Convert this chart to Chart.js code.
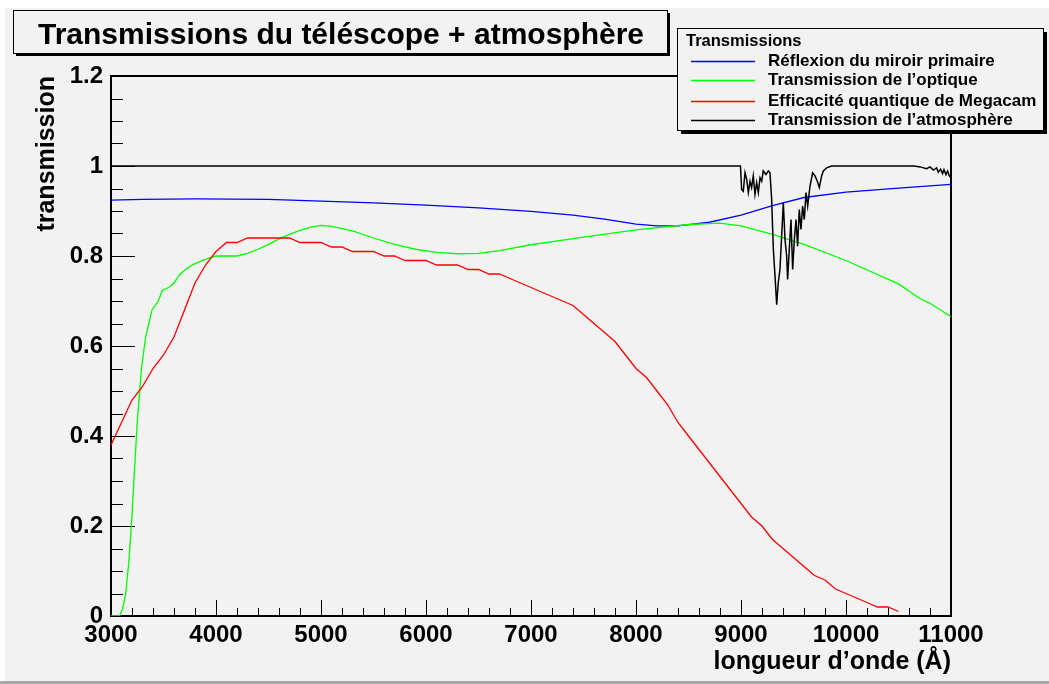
<!DOCTYPE html>
<html>
<head>
<meta charset="utf-8">
<script src="https://cdn.jsdelivr.net/npm/chart.js@4.4.1/dist/chart.umd.min.js"></script>
<style>
  html, body { margin: 0; padding: 0; background: #f2f2f2; }
  canvas { display: block; }
</style>
</head>
<body>
<canvas id="c" width="1049" height="684"></canvas>
<script>
// Wavelength grids (Å) and transmission curves
const mirrorWl = [3000, 3300, 3800, 4500, 5000, 5500, 6000, 6500, 7000, 7400, 7700, 8000, 8200, 8400, 8700, 9000, 9300, 9600, 10000, 10500, 11000];
const mirrorT  = [0.924, 0.926, 0.927, 0.926, 0.922, 0.918, 0.913, 0.907, 0.899, 0.891, 0.882, 0.871, 0.867, 0.867, 0.875, 0.891, 0.912, 0.930, 0.942, 0.951, 0.959];

const opticsWl = [3000, 3080, 3110, 3140, 3170, 3200, 3220, 3250, 3290, 3330, 3390, 3450, 3490, 3550, 3600, 3650, 3720, 3780, 3860, 3940, 4000, 4100, 4200, 4300, 4400, 4500, 4600, 4700, 4800, 4900, 5000, 5100, 5300, 5500, 5700, 5900, 6100, 6300, 6500, 6700, 7000, 7500, 8000, 8500, 8800, 9000, 9300, 9600, 10000, 10500, 10700, 10800, 11000];
const opticsT  = [0.0, 0.0, 0.015, 0.05, 0.12, 0.225, 0.31, 0.43, 0.55, 0.62, 0.68, 0.70, 0.724, 0.73, 0.74, 0.758, 0.772, 0.781, 0.789, 0.796, 0.80, 0.80, 0.80, 0.806, 0.815, 0.826, 0.838, 0.848, 0.857, 0.864, 0.868, 0.866, 0.856, 0.840, 0.826, 0.815, 0.808, 0.805, 0.806, 0.812, 0.825, 0.842, 0.858, 0.870, 0.873, 0.867, 0.848, 0.826, 0.790, 0.738, 0.706, 0.695, 0.665];

const ccdWl = [3000, 3100, 3200, 3300, 3400, 3500, 3600, 3700, 3800, 3900, 4000, 4100, 4200, 4300, 4400, 4500, 4600, 4700, 4800, 4900, 5000, 5100, 5200, 5300, 5400, 5500, 5600, 5700, 5800, 5900, 6000, 6100, 6200, 6300, 6400, 6500, 6600, 6700, 6800, 6900, 7000, 7100, 7200, 7300, 7400, 7500, 7600, 7700, 7800, 7900, 8000, 8100, 8200, 8300, 8400, 8500, 8600, 8700, 8800, 8900, 9000, 9100, 9200, 9300, 9400, 9500, 9600, 9700, 9800, 9900, 10000, 10100, 10200, 10300, 10400, 10500];
const ccdQE = [0.38, 0.43, 0.48, 0.51, 0.55, 0.58, 0.62, 0.68, 0.74, 0.78, 0.81, 0.83, 0.83, 0.84, 0.84, 0.84, 0.84, 0.84, 0.83, 0.83, 0.83, 0.82, 0.82, 0.81, 0.81, 0.81, 0.80, 0.80, 0.79, 0.79, 0.79, 0.78, 0.78, 0.78, 0.77, 0.77, 0.76, 0.76, 0.75, 0.74, 0.73, 0.72, 0.71, 0.70, 0.69, 0.67, 0.65, 0.63, 0.61, 0.58, 0.55, 0.53, 0.50, 0.47, 0.43, 0.40, 0.37, 0.34, 0.31, 0.28, 0.25, 0.22, 0.20, 0.17, 0.15, 0.13, 0.11, 0.09, 0.08, 0.06, 0.05, 0.04, 0.03, 0.02, 0.02, 0.01];

const atmWl = [3000, 8995, 9006, 9022, 9038, 9054, 9070, 9086, 9101, 9117, 9133, 9149, 9165, 9181, 9197, 9212, 9238, 9260, 9276, 9292, 9308, 9324, 9340, 9355, 9371, 9387, 9403, 9419, 9435, 9444, 9460, 9476, 9492, 9508, 9524, 9539, 9555, 9571, 9587, 9603, 9619, 9635, 9657, 9682, 9705, 9727, 9746, 9768, 9784, 9816, 9863, 10000, 10650, 10705, 10768, 10800, 10832, 10863, 10879, 10901, 10920, 10933, 10952, 10968, 10984, 11000];
const atmT  = [1.0, 1.0, 0.948, 0.944, 0.985, 0.970, 0.941, 0.966, 0.952, 0.978, 0.937, 0.963, 0.941, 0.974, 0.966, 0.989, 0.981, 0.989, 0.985, 0.926, 0.815, 0.755, 0.692, 0.741, 0.770, 0.844, 0.918, 0.837, 0.800, 0.748, 0.815, 0.881, 0.770, 0.837, 0.881, 0.822, 0.903, 0.859, 0.911, 0.881, 0.941, 0.911, 0.955, 0.985, 0.978, 0.966, 0.952, 0.978, 0.989, 0.996, 1.0, 1.0, 1.0, 0.998, 0.994, 0.998, 0.991, 0.996, 0.986, 0.993, 0.983, 0.992, 0.981, 0.989, 0.978, 0.974];

// Axis ticks and labels
const xTicks = [3000, 4000, 5000, 6000, 7000, 8000, 9000, 10000, 11000];
const yTicks = [0, 0.2, 0.4, 0.6, 0.8, 1, 1.2];
const yTickLabels = ['0', '0.2', '0.4', '0.6', '0.8', '1', '1.2'];

const seriesNames = ['Réflexion du miroir primaire', 'Transmission de l’optique', 'Efficacité quantique de Megacam', 'Transmission de l’atmosphère'];
const seriesColors = ['#0000ff', '#00ff00', '#ff0000', '#000000'];
const seriesWidths = [1.3, 1.3, 1.3, 1.5];
const chartTitle = 'Transmissions du téléscope + atmosphère';
const legendTitle = 'Transmissions';

const toPoints = (xs, ys) => xs.map((x, i) => ({ x: x, y: ys[i] }));
const FONT = '"Liberation Sans", Arial, sans-serif';

function shadowBox(c, x, y, w, h, s) {
  c.fillStyle = '#000';
  c.fillRect(x + s, y + s, w, h);
  c.fillStyle = '#f2f2f2';
  c.fillRect(x, y, w, h);
  c.strokeStyle = '#000';
  c.lineWidth = 1;
  c.strokeRect(x + 0.5, y + 0.5, w, h);
}

const decorations = {
  id: 'decorations',
  beforeDraw(chart) {
    const c = chart.ctx, W = chart.width, H = chart.height;
    c.save();
    c.fillStyle = '#f2f2f2';
    c.fillRect(0, 0, W, H);
    c.fillStyle = '#ffffff';
    c.fillRect(0, 0, W, 8);
    c.fillRect(0, 0, 5, H);
    c.fillStyle = '#a8a8a8';
    c.fillRect(0, 681, W, 3);
    // title box
    shadowBox(c, 13, 10, 654, 43, 3);
    c.fillStyle = '#000';
    c.font = 'bold 30px ' + FONT;
    c.textAlign = 'center';
    c.textBaseline = 'middle';
    c.fillText(chartTitle, 341, 36);
    c.restore();
  },
  beforeDatasetsDraw(chart) {
    const c = chart.ctx, a = chart.chartArea;
    const xs = chart.scales.x, ys = chart.scales.y;
    c.save();
    c.strokeStyle = '#000';
    c.lineWidth = 1;
    c.beginPath();
    // x axis ticks pointing up into the frame
    for (let i = 0; i < xTicks.length; i++) {
      const px = Math.round(xs.getPixelForValue(xTicks[i])) + 0.5;
      c.moveTo(px, a.bottom); c.lineTo(px, a.bottom - 16);
      if (i < xTicks.length - 1) {
        const step = (xTicks[i + 1] - xTicks[i]) / 5;
        for (let k = 1; k < 5; k++) {
          const mx = Math.round(xs.getPixelForValue(xTicks[i] + k * step)) + 0.5;
          c.moveTo(mx, a.bottom); c.lineTo(mx, a.bottom - 8);
        }
      }
    }
    // y axis ticks pointing right into the frame
    for (let i = 0; i < yTicks.length; i++) {
      const py = Math.round(ys.getPixelForValue(yTicks[i])) + 0.5;
      c.moveTo(a.left, py); c.lineTo(a.left + 24, py);
      if (i < yTicks.length - 1) {
        const step = (yTicks[i + 1] - yTicks[i]) / 4;
        for (let k = 1; k < 4; k++) {
          const my = Math.round(ys.getPixelForValue(yTicks[i] + k * step)) + 0.5;
          c.moveTo(a.left, my); c.lineTo(a.left + 12, my);
        }
      }
    }
    c.stroke();
    // frame
    c.lineWidth = 2;
    c.strokeRect(a.left, a.top, a.right - a.left, a.bottom - a.top);
    c.restore();
  },
  afterDraw(chart) {
    const c = chart.ctx;
    c.save();
    shadowBox(c, 677, 28, 366, 102, 4);
    c.fillStyle = '#000';
    c.textAlign = 'left';
    c.textBaseline = 'middle';
    c.font = 'bold 16.5px ' + FONT;
    c.fillText(legendTitle, 686, 41);
    c.font = 'bold 17px ' + FONT;
    const rows = [61, 80, 101, 120];
    chart.data.datasets.forEach((ds, i) => {
      c.strokeStyle = ds.borderColor;
      c.lineWidth = 1.3;
      c.beginPath();
      c.moveTo(691, rows[i] + 0.5);
      c.lineTo(755, rows[i] + 0.5);
      c.stroke();
      c.fillStyle = '#000';
      c.fillText(ds.label, 768, rows[i]);
    });
    c.restore();
  }
};

const datasets = [
  toPoints(mirrorWl, mirrorT),
  toPoints(opticsWl, opticsT),
  toPoints(ccdWl, ccdQE),
  toPoints(atmWl, atmT)
].map((pts, i) => ({
  label: seriesNames[i],
  data: pts,
  borderColor: seriesColors[i],
  borderWidth: seriesWidths[i],
  pointRadius: 0,
  tension: 0,
  fill: false,
  order: 4 - i
}));

new Chart(document.getElementById('c').getContext('2d'), {
  type: 'line',
  data: { datasets: datasets },
  options: {
    responsive: false,
    animation: false,
    devicePixelRatio: 1,
    layout: { padding: { left: 0, right: 98, top: 76, bottom: 0 } },
    plugins: {
      legend: { display: false },
      title: { display: false },
      tooltip: { enabled: false }
    },
    scales: {
      x: {
        type: 'linear',
        min: 3000,
        max: 11000,
        afterBuildTicks: s => { s.ticks = xTicks.map(v => ({ value: v })); },
        afterFit: s => { s.height = 68; },
        grid: { display: false, drawTicks: false },
        border: { display: false },
        ticks: {
          color: '#000',
          font: { family: FONT, size: 24, weight: 'bold' },
          padding: 5,
          maxRotation: 0,
          autoSkip: false,
          callback: v => String(v)
        },
        title: {
          display: true,
          text: 'longueur d’onde (Å)',
          align: 'end',
          color: '#000',
          font: { family: FONT, size: 25, weight: 'bold' },
          padding: { top: 0, bottom: 7 }
        }
      },
      y: {
        type: 'linear',
        min: 0,
        max: 1.2,
        afterBuildTicks: s => { s.ticks = yTicks.map(v => ({ value: v })); },
        afterFit: s => { s.width = 111; },
        grid: { display: false, drawTicks: false },
        border: { display: false },
        ticks: {
          color: '#000',
          font: { family: FONT, size: 24, weight: 'bold' },
          padding: 8,
          autoSkip: false,
          callback: (v) => yTickLabels[yTicks.indexOf(v)] ?? String(v)
        },
        title: {
          display: true,
          text: 'transmission',
          align: 'end',
          color: '#000',
          font: { family: FONT, size: 25, weight: 'bold' },
          padding: { top: 32, bottom: 0 }
        }
      }
    }
  },
  plugins: [decorations]
});
</script>
</body>
</html>
